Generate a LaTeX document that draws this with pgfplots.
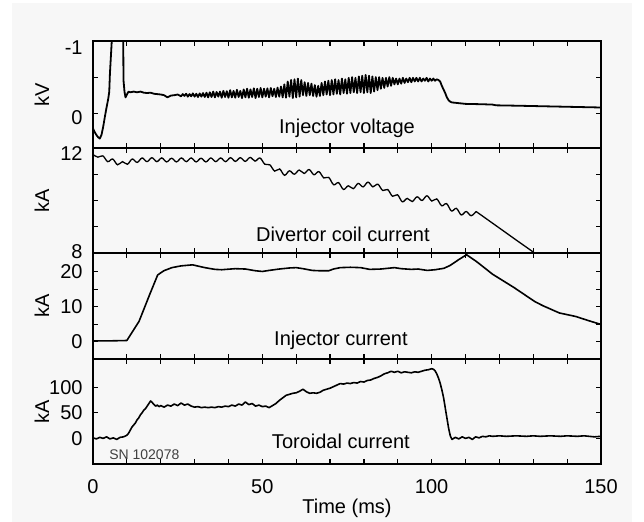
\documentclass[border=0pt]{standalone}
\usepackage{fontspec}
\setmainfont{Liberation Sans}
\usepackage{pgfplots}
\pgfplotsset{compat=1.18}
\definecolor{bg}{HTML}{F7F7F7}
\pgfplotsset{
  panel/.style={
    scale only axis, width=254pt,
    xmin=0, xmax=150,
    xtick={0,50,100,150},
    minor xtick={10,20,30,40,60,70,80,90,110,120,130,140},
    xticklabels={},
    tick align=inside,
    xtick pos=both, ytick pos=both,
    major tick length=2.5pt, minor tick length=2.5pt,
    every tick/.style={black, line width=0.6pt},
    axis line style={black, line width=0.8pt},
    /pgf/number format/assume math mode=true,
    tick label style={font=\fontsize{10}{12}\selectfont},
    yticklabel style={anchor=east, inner sep=0pt, xshift=-5pt},
    every axis y label/.style={at={(axis description cs:-0.1004,0.5)}, rotate=90, anchor=center, font=\fontsize{10}{12}\selectfont},
    clip=true,
  },
  trace/.style={black, line width=0.8pt, line join=round},
}
\begin{document}
\begin{tikzpicture}
\useasboundingbox (0,0) rectangle (322pt,261pt);
\fill[bg] (6pt,0) rectangle (316pt,259.5pt);

% Panel 1: injector voltage
\begin{axis}[panel, at={(46.5pt,240.5pt)}, anchor=north west, height=53.5pt,
  y dir=reverse, ymin=-1, ymax=0.48,
  ytick={0}, yticklabels={0}, minor ytick={-0.5},
  yticklabel style={yshift=-2pt},
  extra y ticks={-1}, extra y tick labels={-1},
  extra y tick style={yticklabel style={yshift=-1.5pt}},
  ylabel={kV}]
\addplot[black, line width=0.9pt, line join=round] coordinates {
(0,0.21) (0.5,0.26) (1,0.30) (1.5,0.33) (2,0.35) (2.5,0.30) (3,0.19) (3.5,0.05) (4,-0.08) (4.5,-0.2) (4.8,-0.3) (5.0,-0.55) (5.3,-0.8) (5.6,-1.05) (6,-1.3) (8.9,-1.3) (9.0,-0.46) (9.3,-0.30) (9.6,-0.22) (10,-0.26) (10.5,-0.30) (11,-0.29) (12,-0.30) (13,-0.29) (14,-0.30) (15,-0.285) (16,-0.28) (17,-0.285) (18,-0.27) (19,-0.265) (20,-0.26) (21,-0.25) (22,-0.22) (23,-0.245) (24,-0.25) (25,-0.26)
(26,-0.235) (26.5,-0.265) (27,-0.24) (27.5,-0.27) (28,-0.23) (28.5,-0.265) (29,-0.235) (29.5,-0.275) (30,-0.23) (30.5,-0.27)
(31,-0.225) (31.5,-0.275) (32,-0.23) (32.5,-0.28) (33,-0.225) (33.5,-0.285) (34,-0.22) (34.5,-0.29) (35,-0.225) (35.5,-0.30)
(36,-0.22) (36.5,-0.295) (37,-0.23) (37.5,-0.30) (38,-0.215) (38.5,-0.31) (39,-0.225) (39.5,-0.305) (40,-0.215) (40.5,-0.32)
(41,-0.22) (41.5,-0.31) (42,-0.215) (42.5,-0.325) (43,-0.225) (43.5,-0.31) (44,-0.21) (44.5,-0.33) (45,-0.22) (45.5,-0.34)
(46,-0.215) (46.5,-0.33) (47,-0.225) (47.5,-0.345) (48,-0.21) (48.5,-0.34) (49,-0.225) (49.5,-0.35) (50,-0.22) (50.5,-0.34)
(51,-0.23) (51.5,-0.345) (52,-0.22) (52.5,-0.35) (53,-0.235) (53.5,-0.34) (54,-0.225) (54.5,-0.355) (55,-0.23) (55.5,-0.37)
(56,-0.22) (56.5,-0.40) (57,-0.215) (57.5,-0.44) (58,-0.23) (58.5,-0.46) (59,-0.21) (59.5,-0.47) (60,-0.22) (60.5,-0.48)
(61,-0.23) (61.5,-0.46) (62,-0.25) (62.5,-0.43) (63,-0.24) (63.5,-0.42) (64,-0.25) (64.5,-0.41) (65,-0.24) (65.5,-0.39)
(66,-0.23) (66.5,-0.38) (67,-0.24) (67.5,-0.42) (68,-0.25) (68.5,-0.44) (69,-0.26) (69.5,-0.45) (70,-0.25) (70.5,-0.46)
(71,-0.26) (71.5,-0.47) (72,-0.27) (72.5,-0.46) (73,-0.26) (73.5,-0.48) (74,-0.28) (74.5,-0.47) (75,-0.27) (75.5,-0.49)
(76,-0.28) (76.5,-0.50) (77,-0.29) (77.5,-0.49) (78,-0.28) (78.5,-0.51) (79,-0.29) (79.5,-0.52) (80,-0.28) (80.5,-0.53)
(81,-0.29) (81.5,-0.52) (82,-0.28) (82.5,-0.51) (83,-0.30) (83.5,-0.50) (84,-0.32) (84.5,-0.50) (85,-0.34) (85.5,-0.49)
(86,-0.35) (86.5,-0.49) (87,-0.37) (87.5,-0.50) (88,-0.38) (88.5,-0.49) (89,-0.40) (89.5,-0.48) (90,-0.40) (90.5,-0.48)
(91,-0.41) (91.5,-0.49) (92,-0.42) (92.5,-0.48) (93,-0.43) (93.5,-0.49) (94,-0.43) (94.5,-0.49) (95,-0.44) (95.5,-0.49)
(96,-0.44) (96.5,-0.49) (97,-0.44) (97.5,-0.48) (98,-0.45) (98.5,-0.49) (99,-0.44) (99.5,-0.48) (100,-0.45) (100.5,-0.48)
(101,-0.45) (101.5,-0.47) (102,-0.46) (102.5,-0.44) (103,-0.38) (103.5,-0.33) (104,-0.28) (104.5,-0.22) (105,-0.18) (105.5,-0.16)
(106,-0.15) (108,-0.14) (110,-0.13) (115,-0.125) (118,-0.12) (119,-0.11) (125,-0.105) (130,-0.10) (135,-0.095) (140,-0.09) (145,-0.085) (150,-0.08)
};
\node[font=\fontsize{10}{12}\selectfont] at (axis cs:75,0.21) {Injector voltage};
\end{axis}

% Panel 2: divertor coil current
\begin{axis}[panel, at={(46.5pt,187pt)}, anchor=north west, height=52.5pt,
  ymin=8, ymax=12,
  ytick={8}, yticklabels={8}, minor ytick={9,10,11},
  yticklabel style={yshift=0.75pt},
  extra y ticks={12}, extra y tick labels={12},
  extra y tick style={yticklabel style={yshift=-3.5pt}},
  ylabel={kA}]
\addplot[black, line width=0.65pt, smooth, tension=0.6] coordinates {
(0,11.75) (1.45,11.65) (2.9,11.70) (4.35,11.48) (5.8,11.58) (7.25,11.36) (8.7,11.48) (10.15,11.38) (11.6,11.58) (13.05,11.45)
(14.5,11.62) (15.95,11.48) (17.4,11.63) (18.85,11.48) (20.3,11.62) (21.75,11.47) (23.2,11.61) (24.65,11.47) (26.1,11.62) (27.55,11.48)
(29.0,11.62) (30.45,11.47) (31.9,11.61) (33.35,11.47) (34.8,11.62) (36.25,11.48) (37.7,11.62) (39.15,11.48) (40.6,11.63) (42.05,11.49)
(43.5,11.63) (44.95,11.49) (46.4,11.64) (47.85,11.50) (49.3,11.62) (50.75,11.38) (52.2,11.36) (53.65,11.12) (55.1,11.20) (56.55,10.96)
(58.0,11.13) (59.45,11.00) (60.9,11.16) (62.35,11.03) (63.8,11.18) (65.25,10.98) (66.7,11.10) (68.15,10.86) (69.6,10.88) (71.05,10.60)
(72.5,10.68) (73.95,10.42) (75.4,10.56) (76.85,10.45) (78.3,10.65) (79.75,10.52) (81.2,10.70) (82.65,10.52) (84.1,10.62) (85.55,10.38)
(87.0,10.42) (88.45,10.16) (89.9,10.22) (91.35,9.95) (92.8,10.08) (94.25,9.96) (95.7,10.14) (97.15,10.00) (98.6,10.18) (100.05,9.98)
(101.5,10.06) (102.95,9.80) (104.4,9.88) (105.85,9.60) (107.3,9.70) (108.75,9.45) (110.2,9.58) (111.65,9.42) (113.1,9.58)
};
\addplot[black, line width=0.65pt] coordinates {
(113.1,9.58) (114,9.50) (120,8.95) (125,8.49) (130.4,8.0) (135,7.58)
};
\node[font=\fontsize{10}{12}\selectfont] at (axis cs:73.8,8.72) {Divertor coil current};
\end{axis}

% Panel 3: injector current
\begin{axis}[panel, at={(46.5pt,134.5pt)}, anchor=north west, height=53pt,
  ymin=-5, ymax=25.4,
  ytick={0,10,20}, minor ytick={5,15},
  ylabel={kA}]
\addplot[trace] coordinates {
(0,0.2) (5,0.2) (10,0.3) (13.6,5.8) (16.7,13.4) (19.1,19.1) (20.9,20.3) (23.3,21.2) (26,21.7) (29.4,22.0) (33,21.2) (36,20.7)
(38,20.6) (42,20.9) (45,20.8) (48,20.3) (50,20.1) (52,20.4) (55,20.8) (58,21.1) (60,21.2) (62,20.9) (64.7,20.4) (67,20.3)
(69.6,20.3) (71,20.8) (73,21.2) (76,21.3) (79,21.2) (81.7,20.7) (85,20.8) (89,21.2) (91,20.9) (94,20.7) (96,20.8)
(98.7,20.4) (101,20.6) (103.6,21.0) (105.4,21.8) (108,23.5) (110.3,24.9) (113.3,22.9) (118,19.3) (124.3,15.5) (130.4,11.5)
(132.8,10.3) (137.7,8.2) (142.5,7.2) (146,6.1) (150,4.9)
};
\node[font=\fontsize{10}{12}\selectfont] at (axis cs:73.2,0.3) {Injector current};
\end{axis}

% Panel 4: toroidal current
\begin{axis}[panel, at={(46.5pt,81.5pt)}, anchor=north west, height=52.5pt,
  ymin=-50, ymax=155,
  ytick={0,50,100},
  xticklabels={0,50,100,150},
  xticklabel style={anchor=center, yshift=-11.5pt},
  ylabel={kA},
  xlabel={Time (ms)},
  xlabel style={at={(axis description cs:0.5,0)}, anchor=center, yshift=-22pt, font=\fontsize{10}{12}\selectfont}]
\addplot[trace] coordinates {
(0,1) (1,-1) (2,2) (3,0) (4,3) (5,-1) (6,1) (7,-2) (8,2) (9,3) (10,6) (10.5,10) (11,16) (11.5,22) (12,26) (12.5,30) (13,36) (13.5,40)
(14,46) (14.5,50) (15,55) (15.5,58) (16,63) (16.5,68) (17,73) (17.5,70) (18,66) (18.5,63) (19,65) (19.5,62) (20,64) (21,61)
(22,65) (23,63) (24,67) (25,64) (26,69) (27,65) (28,67) (29,63) (30,61) (31,62) (32,60) (33,61) (34,60) (35,61) (36,60) (37,62)
(38,61) (39,63) (40,62) (41,65) (42,63) (43,67) (44,65) (45,71) (46,66) (47,68) (48,63) (49,65) (50,62) (51,63) (52,60) (53,64)
(54,68) (55,74) (56,79) (57,84) (58,86) (59,88) (60,89) (61,92) (62,96) (63,91) (64,88) (65,89) (66,88) (67,90) (68,94) (69,96)
(70,98) (71,101) (72,104) (73,107) (74,106) (75,108) (76,107) (77,109) (78,108) (79,111) (80,110) (81,113) (82,114) (83,117)
(84,119) (85,122) (86,126) (87,128) (88,131) (89,129) (90,131) (91,128) (92,130) (93,129) (94,128) (95,130) (96,129) (97,131)
(98,133) (99,134) (100,136) (100.5,135) (101,132) (101.5,126) (102,118) (102.5,108) (103,95) (103.5,80) (104,60) (104.5,40)
(105,20) (105.5,5) (106,-2) (107,2) (108,-1) (109,3) (110,0) (111,2) (112,-2) (113,3) (114,1) (115,4) (116,3) (117,5) (118,4)
(120,5) (122,4) (125,5) (128,4) (130,5) (132,4) (135,5) (138,4) (140,5) (143,4) (145,5) (148,3) (150,4)
};
\node[font=\fontsize{10}{12}\selectfont] at (axis cs:73.2,-6) {Toroidal current};
\node[font=\fontsize{7}{8}\selectfont, text=black!75, anchor=west, inner sep=0pt] at (axis cs:4.7,-31) {SN 102078};
\end{axis}
\end{tikzpicture}
\end{document}
